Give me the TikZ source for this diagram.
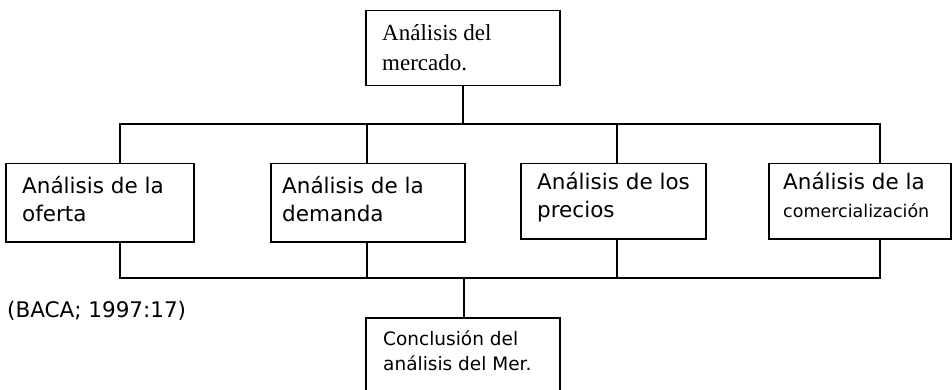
\documentclass[tikz,border=0pt]{standalone}
\usepackage{fontspec}
\setmainfont{DejaVu Sans}
\newfontfamily\seriff{Liberation Serif}
\begin{document}
\begin{tikzpicture}[x=1pt,y=-1pt,
  box/.style={draw=black, line width=1.5pt, rectangle, inner sep=0pt, anchor=north west},
  conn/.style={draw=black, line width=1.5pt},
  sans/.style={anchor=base west, inner sep=0pt, align=left, font={\fontsize{21.5pt}{28pt}\selectfont}},
  sanssmall/.style={anchor=base west, inner sep=0pt, align=left, font={\fontsize{18.5pt}{25pt}\selectfont}},
  serift/.style={anchor=base west, inner sep=0pt, align=left, font={\seriff\fontsize{23pt}{30pt}\selectfont}}]
\useasboundingbox[fill=white] (0,0) rectangle (952,390);
% boxes
\node[box, minimum width=194pt, minimum height=75pt] (b0) at (365,10) {};
\node[box, minimum width=188pt, minimum height=78pt] (b1) at (5,163) {};
\node[box, minimum width=194pt, minimum height=78pt] (b2) at (270,163) {};
\node[box, minimum width=185pt, minimum height=75pt] (b3) at (520,163) {};
\node[box, minimum width=182pt, minimum height=75pt] (b4) at (768,163) {};
\node[box, minimum width=194pt, minimum height=80pt] (b5) at (365,317) {};
% texts (anchor is the baseline of the last line)
\node[serift] (t0) at (382,71) {Análisis del\\mercado.};
\node[sans] (t1) at (22,221) {Análisis de la\\oferta};
\node[sans] (t2) at (282,221) {Análisis de la\\demanda};
\node[sans] (t3) at (537,217) {Análisis de los\\precios};
\node[sans] (t4) at (783,217) {Análisis de la\\{\fontsize{17.5pt}{28pt}\selectfont comercialización}};
\node[sanssmall] (t5) at (383,370) {Conclusión del\\análisis del Mer.};
\node[sans] (src) at (7,317) {(BACA; 1997:17)};
% bus coordinates
\coordinate (ta) at (120,124);
\coordinate (tb) at (367,124);
\coordinate (tc) at (617,124);
\coordinate (td) at (880,124);
\coordinate (ba) at (120,278);
\coordinate (bb) at (367,278);
\coordinate (bc) at (617,278);
\coordinate (bd) at (880,278);
\coordinate (be) at (464,278);
% connectors
\draw[conn] (b0.south) -- (b0.south |- ta);
\draw[conn] (b1.north -| ta) -- (ta) -- (td) -- (b4.north -| td);
\draw[conn] (b2.north -| tb) -- (tb);
\draw[conn] (b3.north -| tc) -- (tc);
\draw[conn] (b1.south -| ba) -- (ba) -- (bd) -- (b4.south -| bd);
\draw[conn] (b2.south -| bb) -- (bb);
\draw[conn] (b3.south -| bc) -- (bc);
\draw[conn] (be) -- (b5.north -| be);
\end{tikzpicture}
\end{document}
